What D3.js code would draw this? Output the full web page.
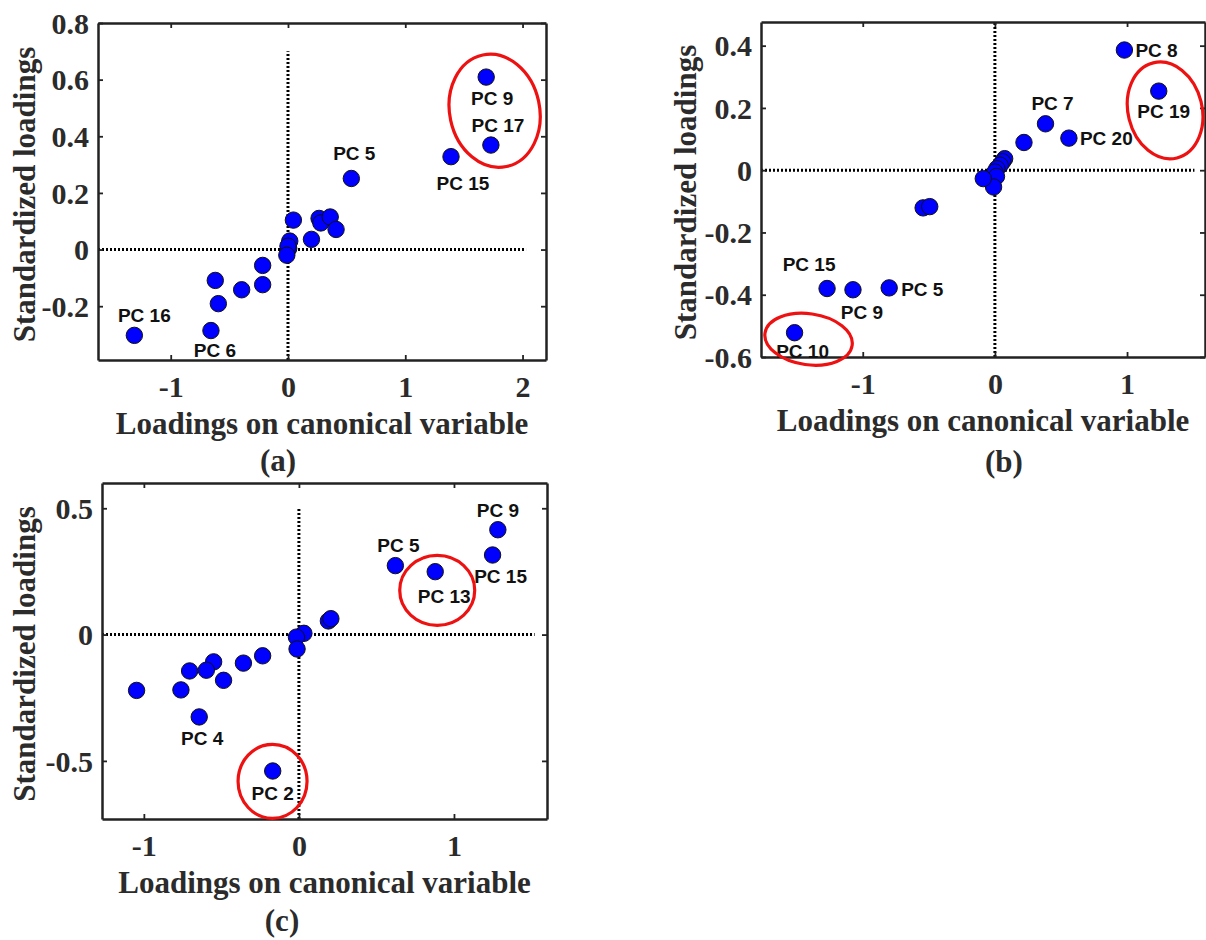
<!DOCTYPE html>
<html><head><meta charset="utf-8">
<script src="https://cdn.jsdelivr.net/npm/d3@7"></script>
<style>
body{margin:0;background:#fff}
svg{display:block}
.axis text{font-family:"Liberation Serif","Times New Roman",serif;font-weight:bold;font-size:30px;fill:#2b2b2b}
.axis path,.axis line{stroke:#222}
.axis path{stroke-width:2.5}
.axis line{stroke-width:1.8}
.title{font-family:"Liberation Serif","Times New Roman",serif;font-weight:bold;font-size:31px;fill:#2b2b2b}
.pclabel{font-family:"Liberation Sans",Arial,sans-serif;font-weight:bold;font-size:19px;fill:#111}
</style></head><body>
<svg id="chart" width="1206" height="940"></svg>
<script>
// ---------- data ----------
// Panel (a)
const aX = [1.69, 1.73, 1.39, 0.54, 0.046, 0.265, 0.28, 0.36, 0.41, 0.20, 0.015, 0.006, 0.0, -0.01, -0.216, -0.216, -0.395, -0.62, -0.594, -0.657, -1.31];
const aY = [0.609, 0.369, 0.328, 0.251, 0.104, 0.11, 0.094, 0.115, 0.071, 0.036, 0.03, 0.004, 0.012, -0.02, -0.056, -0.124, -0.142, -0.109, -0.191, -0.286, -0.303];
const aNames = ["PC 9", "PC 17", "PC 15", "PC 5", "PC 16", "PC 6"];
const aNameIdx = [0, 1, 2, 3, 20, 19];
const aXTicks = [-1, 0, 1, 2];
const aYTicks = [-0.2, 0, 0.2, 0.4, 0.6, 0.8];

// Panel (b)
const bX = [0.98, 1.24, 0.383, 0.56, 0.22, 0.074, 0.058, 0.04, 0.015, 0.0, 0.012, -0.01, -0.088, -0.543, -0.493, -1.27, -1.074, -0.80, -1.516];
const bY = [0.386, 0.254, 0.149, 0.103, 0.089, 0.037, 0.027, 0.016, 0.005, -0.006, -0.02, -0.054, -0.027, -0.121, -0.117, -0.38, -0.384, -0.378, -0.522];
const bNames = ["PC 8", "PC 19", "PC 7", "PC 20", "PC 15", "PC 9", "PC 5", "PC 10"];
const bNameIdx = [0, 1, 2, 3, 15, 16, 17, 18];
const bXTicks = [-1, 0, 1];
const bYTicks = [-0.6, -0.4, -0.2, 0, 0.2, 0.4];

// Panel (c)
const cX = [1.283, 1.249, 0.622, 0.879, 0.19, 0.206, 0.032, -0.016, -0.012, -0.234, -0.358, -0.55, -0.597, -0.705, -0.486, -0.761, -1.047, -0.643, -0.169];
const cY = [0.415, 0.315, 0.273, 0.249, 0.054, 0.063, 0.005, -0.01, -0.057, -0.084, -0.113, -0.108, -0.141, -0.144, -0.181, -0.219, -0.221, -0.326, -0.54];
const cNames = ["PC 9", "PC 15", "PC 5", "PC 13", "PC 4", "PC 2"];
const cNameIdx = [0, 1, 2, 3, 17, 18];
const cXTicks = [-1, 0, 1];
const cYTicks = [-0.5, 0, 0.5];

const xTitle = "Loadings on canonical variable";
const yTitle = "Standardized loadings";

// ---------- layout ----------
const panels = [
  { xs: aX, ys: aY, names: aNames, nameIdx: aNameIdx, xTicks: aXTicks, yTicks: aYTicks,
    box: {l: 98, r: 546, t: 23, b: 360}, xDom: [-1.62, 2.2], yDom: [-0.39, 0.8],
    hLine: [-1.62, 2.03], vLine: [-0.39, 0.7], letter: "(a)", letterX: 278, letterY: 471, yTitleX: 35,
    labelOff: [[6, 28, "middle"], [7, -13, "middle"], [12, 33, "middle"], [3, -18, "middle"], [10, -13, "middle"], [4, 26, "middle"]],
    ellipses: [{cx: 1.762, cy: 0.49, rx: 45, ry: 57, rot: -12}] },
  { xs: bX, ys: bY, names: bNames, nameIdx: bNameIdx, xTicks: bXTicks, yTicks: bYTicks,
    box: {l: 761, r: 1205, t: 22, b: 357}, xDom: [-1.77, 1.59], yDom: [-0.6, 0.476],
    hLine: [-1.77, 1.51], vLine: [-0.6, 0.476], letter: "(b)", letterX: 1004, letterY: 472, yTitleX: 696,
    labelOff: [[11, 7, "start"], [5, 27, "middle"], [7, -14, "middle"], [11, 7, "start"], [-18, -18, "middle"], [9, 29, "middle"], [12, 8, "start"], [8, 25, "middle"]],
    ellipses: [{cx: 1.288, cy: 0.192, rx: 37, ry: 49, rot: -14}, {cx: -1.41, cy: -0.543, rx: 44, ry: 25.5, rot: 8}] },
  { xs: cX, ys: cY, names: cNames, nameIdx: cNameIdx, xTicks: cXTicks, yTicks: cYTicks,
    box: {l: 102, r: 547, t: 483, b: 819}, xDom: [-1.27, 1.6], yDom: [-0.73, 0.6],
    hLine: [-1.27, 1.52], vLine: [-0.73, 0.5], letter: "(c)", letterX: 282, letterY: 931, yTitleX: 35,
    labelOff: [[0, -13, "middle"], [8, 28, "middle"], [3, -14, "middle"], [9, 31, "middle"], [3, 28, "middle"], [0, 29, "middle"]],
    ellipses: [{cx: 0.892, cy: 0.175, rx: 37.5, ry: 35, rot: 0}, {cx: -0.17, cy: -0.581, rx: 34.5, ry: 37, rot: 0}] }
];

const svg = d3.select("#chart");
const fmt = d => (d === 0 ? "0" : String(d));

panels.forEach(p => {
  const x = d3.scaleLinear().domain(p.xDom).range([p.box.l, p.box.r]);
  const y = d3.scaleLinear().domain(p.yDom).range([p.box.b, p.box.t]);
  const g = svg.append("g");

  // dotted reference lines
  g.append("line").attr("x1", x(p.hLine[0])).attr("x2", x(p.hLine[1])).attr("y1", y(0)).attr("y2", y(0))
    .attr("stroke", "#000").attr("stroke-width", 3).attr("stroke-dasharray", "2,2");
  g.append("line").attr("x1", x(0)).attr("x2", x(0)).attr("y1", y(p.vLine[0])).attr("y2", y(p.vLine[1]))
    .attr("stroke", "#000").attr("stroke-width", 3).attr("stroke-dasharray", "2,2");

  // axes (box with inward ticks)
  g.append("g").attr("class", "axis").attr("transform", `translate(0,${p.box.b})`)
    .call(d3.axisBottom(x).tickValues(p.xTicks).tickFormat(fmt).tickSizeInner(-5).tickSizeOuter(0).tickPadding(16));
  g.append("g").attr("class", "axis").attr("transform", `translate(0,${p.box.t})`)
    .call(d3.axisTop(x).tickValues(p.xTicks).tickFormat("").tickSizeInner(-5).tickSizeOuter(0));
  const left = g.append("g").attr("class", "axis").attr("transform", `translate(${p.box.l},0)`)
    .call(d3.axisLeft(y).tickValues(p.yTicks).tickFormat(fmt).tickSizeInner(-5).tickSizeOuter(0).tickPadding(9));
  g.append("g").attr("class", "axis").attr("transform", `translate(${p.box.r},0)`)
    .call(d3.axisRight(y).tickValues(p.yTicks).tickFormat("").tickSizeInner(-5).tickSizeOuter(0));
  left.selectAll("text").attr("dy", "0.34em");

  // points
  g.selectAll("circle.pt").data(p.xs.map((v, i) => [v, p.ys[i]])).enter().append("circle")
    .attr("class", "pt").attr("cx", d => x(d[0])).attr("cy", d => y(d[1])).attr("r", 8.2)
    .attr("fill", "#0000ff").attr("stroke", "#111").attr("stroke-width", 1);

  // labels
  p.names.forEach((n, k) => {
    const i = p.nameIdx[k], o = p.labelOff[k];
    g.append("text").attr("class", "pclabel").attr("x", x(p.xs[i]) + o[0]).attr("y", y(p.ys[i]) + o[1])
      .attr("text-anchor", o[2]).text(n);
  });

  // red highlight ellipses
  p.ellipses.forEach(e => {
    g.append("ellipse").attr("cx", 0).attr("cy", 0).attr("rx", e.rx).attr("ry", e.ry)
      .attr("transform", `translate(${x(e.cx)},${y(e.cy)}) rotate(${e.rot})`)
      .attr("fill", "none").attr("stroke", "#ee1111").attr("stroke-width", 3.2);
  });

  // titles
  g.append("text").attr("class", "title").attr("x", (p.box.l + p.box.r) / 2).attr("y", p.box.b + 74)
    .attr("text-anchor", "middle").text(xTitle);
  g.append("text").attr("class", "title").attr("text-anchor", "middle")
    .attr("transform", `translate(${p.yTitleX},${(p.box.t + p.box.b) / 2 + 3}) rotate(-90)`).text(yTitle);
  g.append("text").attr("class", "title").attr("x", p.letterX).attr("y", p.letterY)
    .attr("text-anchor", "middle").text(p.letter);
});
</script>
</body></html>
